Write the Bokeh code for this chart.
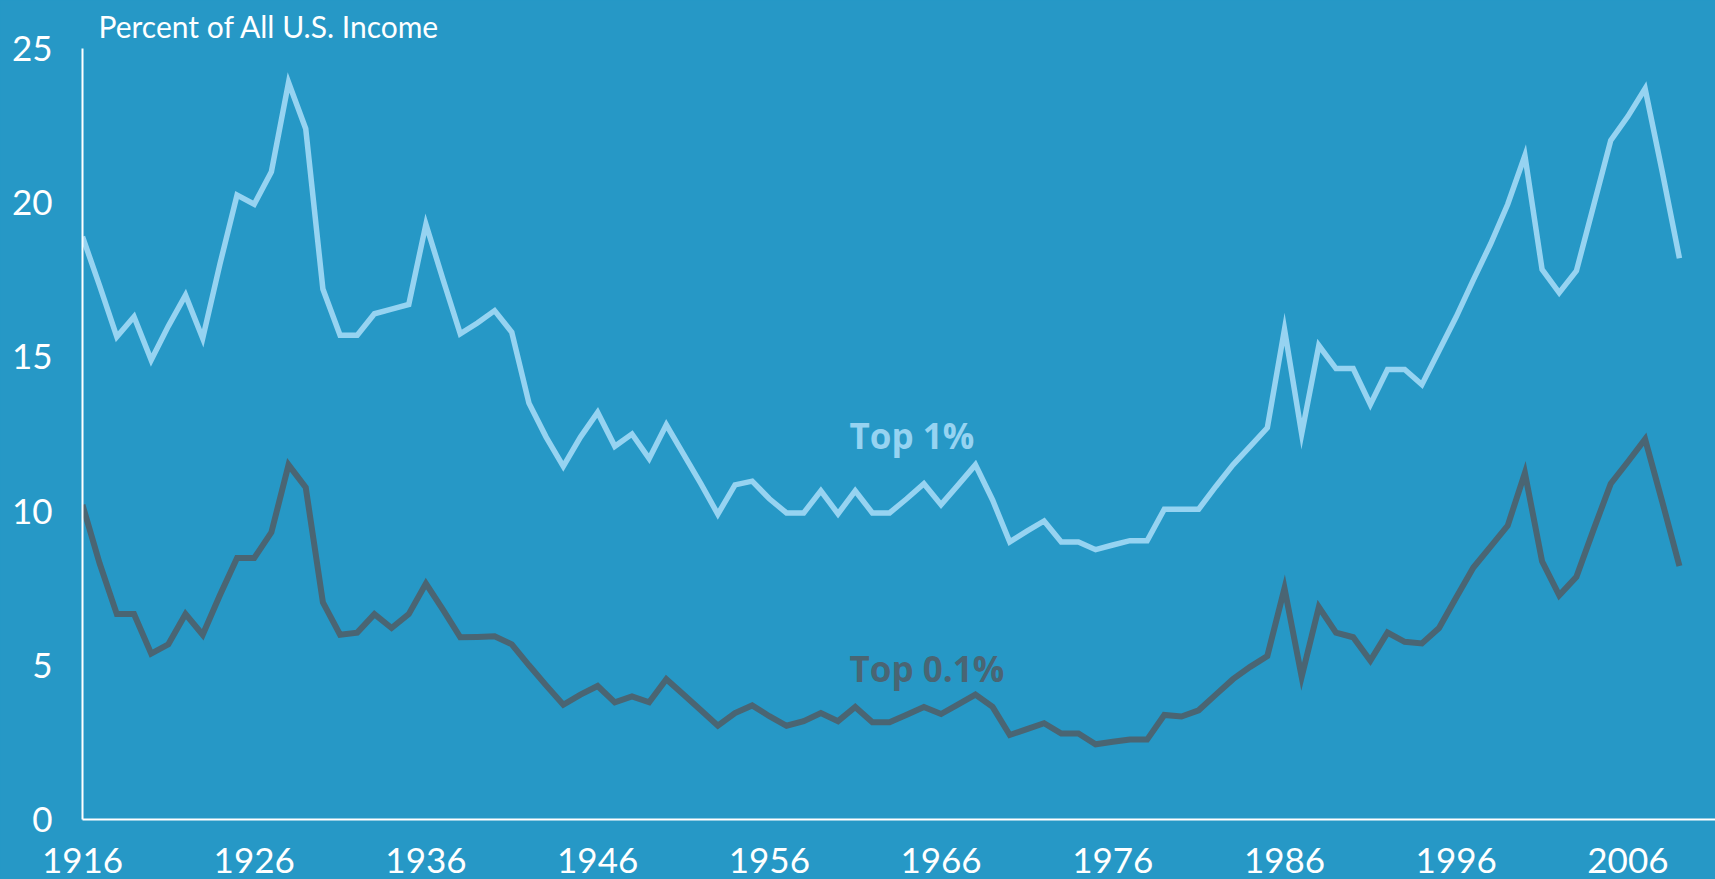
from bokeh.plotting import figure
from bokeh.models import Range1d, Label, FixedTicker
from bokeh.embed import file_html
from bokeh.resources import INLINE

# ---- data ----
years = list(range(1916, 2010))
top1 = [18.9, 17.3, 15.65, 16.3, 14.9, 16.0, 17.0, 15.6, 18.0, 20.25,
        19.95, 21.0, 23.9, 22.4, 17.2, 15.7, 15.7, 16.4, 16.55, 16.7,
        19.3, 17.5, 15.75, 16.1, 16.5, 15.8, 13.5, 12.4, 11.45, 12.4,
        13.2, 12.1, 12.5, 11.7, 12.8, 11.85, 10.9, 9.9, 10.85, 10.97,
        10.4, 9.94, 9.94, 10.66, 9.91, 10.66, 9.94, 9.94, 10.4, 10.89,
        10.21, 10.85, 11.5, 10.36, 9.0, 9.35, 9.68, 9.0, 9.0, 8.75,
        8.9, 9.04, 9.04, 10.06, 10.06, 10.06, 10.8, 11.5, 12.1, 12.7,
        15.9, 12.5, 15.37, 14.62, 14.62, 13.46, 14.59, 14.59, 14.1, 15.2,
        16.3, 17.5, 18.66, 19.95, 21.53, 17.84, 17.08, 17.79, 19.9, 22.02,
        22.8, 23.7, 21.0, 18.2]
top01 = [10.2, 8.3, 6.66, 6.66, 5.38, 5.68, 6.66, 5.99, 7.27, 8.48,
         8.48, 9.31, 11.5, 10.77, 7.04, 5.99, 6.06, 6.66, 6.21, 6.66,
         7.65, 6.8, 5.91, 5.92, 5.94, 5.68, 5.0, 4.35, 3.72, 4.05,
         4.33, 3.8, 3.99, 3.8, 4.55, 4.05, 3.55, 3.04, 3.45, 3.7,
         3.35, 3.04, 3.19, 3.45, 3.19, 3.65, 3.15, 3.15, 3.4, 3.65,
         3.42, 3.73, 4.05, 3.65, 2.74, 2.93, 3.12, 2.79, 2.79, 2.44,
         2.52, 2.59, 2.59, 3.39, 3.34, 3.54, 4.05, 4.55, 4.95, 5.3,
         7.5, 4.63, 6.89, 6.06, 5.91, 5.15, 6.06, 5.76, 5.71, 6.21,
         7.2, 8.17, 8.85, 9.53, 11.24, 8.37, 7.27, 7.87, 9.4, 10.89,
         11.6, 12.33, 10.3, 8.22]
x_ticks = [1916, 1926, 1936, 1946, 1956, 1966, 1976, 1986, 1996, 2006]
y_ticks = [0, 5, 10, 15, 20, 25]
title_text = "Percent of All U.S. Income"
series_names = ["Top 1%", "Top 0.1%"]

assert len(top1) == len(years) and len(top01) == len(years)

BG = "#2698C6"
LIGHT = "#96D3F1"
DARK = "#4A6573"
FONT = "Lato"

p = figure(width=1715, height=879,
           x_range=Range1d(1916, 2011.1), y_range=Range1d(0, 25),
           output_backend="svg", toolbar_location=None,
           min_border_left=82, min_border_right=0,
           min_border_top=48, min_border_bottom=60,
           background_fill_color=BG, border_fill_color=BG,
           outline_line_color=None,
           title=title_text)

p.title.text_color = "white"
p.title.text_font = FONT
p.title.text_font_size = "30px"
p.title.text_font_style = "normal"
p.title.align = "left"
p.title.offset = 16
p.title.standoff = 9

p.xgrid.visible = False
p.ygrid.visible = False

for ax in (p.xaxis[0], p.yaxis[0]):
    ax.axis_line_color = "white"
    ax.axis_line_width = 2
    ax.major_tick_line_color = None
    ax.minor_tick_line_color = None
    ax.major_tick_out = 0
    ax.major_tick_in = 0
    ax.minor_tick_out = 0
    ax.minor_tick_in = 0
    ax.major_label_text_color = "white"
    ax.major_label_text_font = FONT
    ax.major_label_text_font_size = "35px"

p.xaxis[0].ticker = FixedTicker(ticks=x_ticks)
p.yaxis[0].ticker = FixedTicker(ticks=y_ticks)
p.xaxis[0].major_label_standoff = 28
p.yaxis[0].major_label_standoff = 30

p.line(years, top1, line_color=LIGHT, line_width=5.5, line_join="miter")
p.line(years, top01, line_color=DARK, line_width=6, line_join="miter")

p.add_layout(Label(x=1960.67, y=12.45, text=series_names[0], text_color=LIGHT,
                   text_font="Open Sans", text_font_size="35px", text_font_style="bold",
                   text_align="left", text_baseline="alphabetic"))
p.add_layout(Label(x=1960.67, y=4.9, text=series_names[1], text_color=DARK,
                   text_font="Open Sans", text_font_size="35px", text_font_style="bold",
                   text_align="left", text_baseline="alphabetic"))

html = file_html(p, INLINE, title="Percent of All U.S. Income")
html = html.replace("<head>", "<head><style>html,body{background:%s;margin:0;overflow:hidden;}</style>" % BG, 1)
open("out.html", "w").write(html)
